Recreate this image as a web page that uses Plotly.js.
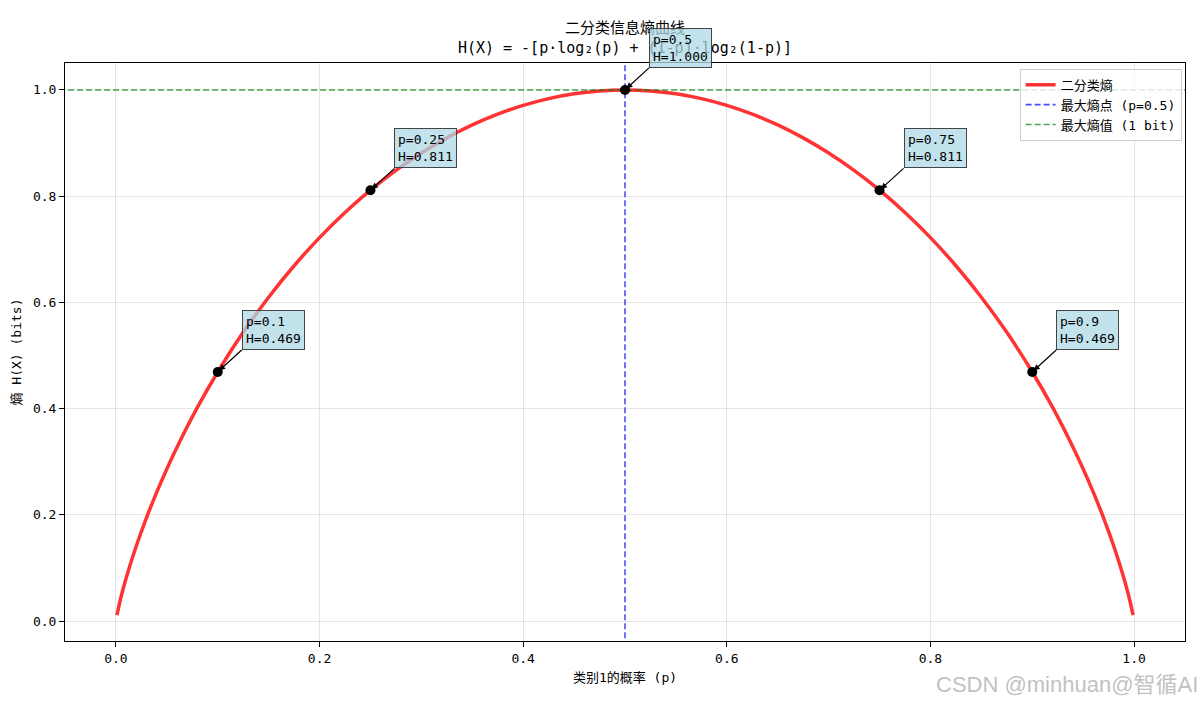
<!DOCTYPE html>
<html>
<head>
<meta charset="utf-8">
<script src="https://cdn.plot.ly/plotly-3.0.1.min.js"></script>
<style>html,body{margin:0;padding:0;background:#fff;}#chart{width:1200px;height:706px;}</style>
</head>
<body>
<div id="chart"></div>
<script>
// Curve values (binary entropy curve)
const pValues = [0.001,0.005,0.01,0.02,0.03,0.04,0.05,0.06,0.08,0.1,0.125,0.15,0.175,0.2,0.225,0.25,0.275,0.3,0.325,0.35,0.375,0.4,0.425,0.45,0.475,0.5,
  0.525,0.55,0.575,0.6,0.625,0.65,0.675,0.7,0.725,0.75,0.775,0.8,0.825,0.85,0.875,0.9,0.92,0.94,0.95,0.96,0.97,0.98,0.99,0.995,0.999];
const hValues = [0.0114,0.0454,0.0808,0.1414,0.1944,0.2423,0.2864,0.3274,0.4022,0.4690,0.5436,0.6098,0.6690,0.7219,0.7692,0.8113,0.8485,0.8813,0.9097,0.9341,0.9544,0.9710,0.9837,0.9928,0.9982,1.0,
  0.9982,0.9928,0.9837,0.9710,0.9544,0.9341,0.9097,0.8813,0.8485,0.8113,0.7692,0.7219,0.6690,0.6098,0.5436,0.4690,0.4022,0.3274,0.2864,0.2423,0.1944,0.1414,0.0808,0.0454,0.0114];
const markP = [0.1, 0.25, 0.5, 0.75, 0.9];
const markH = [0.469, 0.811, 1.000, 0.811, 0.469];
const markLabelsP = ["0.1", "0.25", "0.5", "0.75", "0.9"];
const markLabelsH = ["0.469", "0.811", "1.000", "0.811", "0.469"];
const xTicks = [0.0, 0.2, 0.4, 0.6, 0.8, 1.0];
const xTickText = ["0.0", "0.2", "0.4", "0.6", "0.8", "1.0"];
const yTicks = [0.0, 0.2, 0.4, 0.6, 0.8, 1.0];
const yTickText = ["0.0", "0.2", "0.4", "0.6", "0.8", "1.0"];
const maxP = 0.5;
const maxH = 1.0;
const seriesNames = ["二分类熵", "最大熵点 (p=0.5)", "最大熵值 (1 bit)"];

const FONT = "'DejaVu Sans Mono', 'Noto Sans CJK SC', monospace";

const traces = [
  {x: pValues, y: hValues, mode: 'lines', name: seriesNames[0],
   line: {color: 'rgba(255,0,0,0.8)', width: 3.5, shape: 'spline'}},
  {x: [maxP, maxP], y: [-0.1, 1.2], mode: 'lines', name: seriesNames[1],
   line: {color: 'rgba(0,0,255,0.7)', width: 1.6, dash: '6px,3px'}},
  {x: [-0.1, 1.2], y: [maxH, maxH], mode: 'lines', name: seriesNames[2],
   line: {color: 'rgba(0,128,0,0.7)', width: 1.6, dash: '6px,3px'}},
  {x: markP, y: markH, mode: 'markers', showlegend: false, hoverinfo: 'skip',
   marker: {color: 'black', size: 10}}
];

const annotations = markP.map((p, i) => ({
  x: p, y: markH[i], xref: 'x', yref: 'y',
  text: 'p=' + markLabelsP[i] + '<br>H=' + markLabelsH[i],
  showarrow: true, ax: 24, ay: -22, xanchor: 'left', yanchor: 'bottom',
  align: 'left', arrowhead: 2, arrowsize: 1, arrowwidth: 1.2, arrowcolor: 'black',
  standoff: 2,
  bgcolor: 'rgba(173,216,230,0.75)', bordercolor: '#444', borderwidth: 1, borderpad: 3,
  font: {family: FONT, size: 13, color: 'black'}
}));
annotations.push({
  xref: 'paper', yref: 'paper', x: 1.013, y: -0.1, xanchor: 'right', yanchor: 'bottom',
  text: 'CSDN @minhuan@智循AI', showarrow: false,
  font: {family: "'Liberation Sans', 'Noto Sans CJK SC', sans-serif", size: 22, color: 'rgba(185,185,185,0.9)'}
});

const layout = {
  width: 1200, height: 706,
  margin: {l: 65, r: 15, t: 63, b: 65},
  paper_bgcolor: 'white', plot_bgcolor: 'white',
  font: {family: FONT, size: 13, color: 'black'},
  title: {text: '二分类信息熵曲线<br>H(X) = -[p·log₂(p) + (1-p)·log₂(1-p)]',
          x: 0.5208, xanchor: 'center', y: 0.953, yanchor: 'top',
          font: {family: FONT, size: 15, color: 'black'}},
  xaxis: {range: [-0.05, 1.05], tickvals: xTicks, ticktext: xTickText,
          showgrid: true, gridcolor: 'rgba(0,0,0,0.1)', gridwidth: 1,
          zeroline: false, showline: true, mirror: true, linecolor: 'black', linewidth: 1,
          ticks: 'outside', ticklen: 5, tickcolor: 'black',
          tickfont: {family: FONT, size: 13},
          title: {text: '类别1的概率 (p)', font: {family: FONT, size: 13}, standoff: 8}},
  yaxis: {range: [-0.0375, 1.0507], tickvals: yTicks, ticktext: yTickText,
          showgrid: true, gridcolor: 'rgba(0,0,0,0.1)', gridwidth: 1,
          zeroline: false, showline: true, mirror: true, linecolor: 'black', linewidth: 1,
          ticks: 'outside', ticklen: 5, tickcolor: 'black',
          tickfont: {family: FONT, size: 13},
          title: {text: '熵 H(X) (bits)', font: {family: FONT, size: 13}, standoff: 8}},
  legend: {x: 0.997, xanchor: 'right', y: 0.99, yanchor: 'top',
           bgcolor: 'rgba(255,255,255,0.8)', bordercolor: '#cccccc', borderwidth: 1,
           font: {family: FONT, size: 13}, tracegroupgap: 0},
  showlegend: true,
  annotations: annotations
};

Plotly.newPlot('chart', traces, layout, {displayModeBar: false, responsive: false});
</script>
</body>
</html>
